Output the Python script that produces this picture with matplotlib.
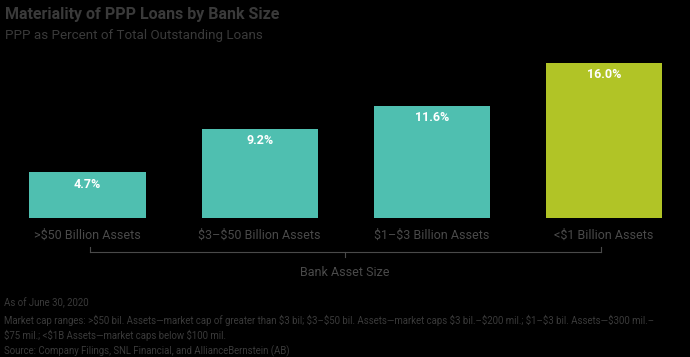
import matplotlib.pyplot as plt

categories = [">$50 Billion Assets", "$3\u2013$50 Billion Assets", "$1\u2013$3 Billion Assets", "<$1 Billion Assets"]
ppp_pct = [4.7, 9.2, 11.6, 16.0]
bar_colors = ["#4fbfb0", "#4fbfb0", "#4fbfb0", "#b1c426"]

title = "Materiality of PPP Loans by Bank Size"
subtitle = "PPP as Percent of Total Outstanding Loans"
x_title = "Bank Asset Size"
notes = [
    "As of June 30, 2020",
    "Market cap ranges: >$50 bil. Assets\u2014market cap of greater than $3 bil; $3\u2013$50 bil. Assets\u2014market caps $3 bil.\u2013$200 mil.; $1\u2013$3 bil. Assets\u2014$300 mil.\u2013",
    "$75 mil.; <$1B Assets\u2014market caps below $100 mil.",
    "Source: Company Filings, SNL Financial, and AllianceBernstein (AB)",
]

plt.rcParams['font.family'] = ['Roboto', 'DejaVu Sans']
plt.rcParams['text.parse_math'] = False
W, H = 690, 357
fig = plt.figure(figsize=(W / 100, H / 100), dpi=100, facecolor='black')

# axes placed in pixel coords: x 1.5..690, y 63..218
ax = fig.add_axes([1.5 / W, 1 - 218 / H, 688.5 / W, 155 / H])
ax.set_facecolor('black')
x = range(len(categories))
bars = ax.bar(x, ppp_pct, width=0.675, color=bar_colors)
ax.set_xlim(-0.5, 3.5)
ax.set_ylim(0, 16)
for b, v in zip(bars, ppp_pct):
    ax.text(b.get_x() + b.get_width() / 2, v - 0.55, f"{v:.1f}%", ha='center', va='top',
            color='white', fontsize=9, fontweight='bold')
ax.set_xticks(list(x))
ax.set_xticklabels(categories, fontsize=9, color='#4a4a4a')
ax.tick_params(axis='x', length=0, pad=8)
ax.set_yticks([])
for s in ax.spines.values():
    s.set_visible(False)

# bracket below categories
def px(xp, yp):
    return xp / W, 1 - yp / H

line_kw = dict(color='#4a4a4a', lw=0.8, transform=fig.transFigure)
x0, x1, xc, yb = 90, 601, 345, 252
fig.add_artist(plt.Line2D([px(x0, 0)[0], px(x1, 0)[0]], [px(0, yb)[1]] * 2, **line_kw))
fig.add_artist(plt.Line2D([px(x0, 0)[0]] * 2, [px(0, yb)[1], px(0, yb - 5)[1]], **line_kw))
fig.add_artist(plt.Line2D([px(x1, 0)[0]] * 2, [px(0, yb)[1], px(0, yb - 5)[1]], **line_kw))
fig.add_artist(plt.Line2D([px(xc, 0)[0]] * 2, [px(0, yb)[1], px(0, yb + 5)[1]], **line_kw))
fig.text(*px(xc, 272), x_title, ha='center', va='center', fontsize=9, color='#4a4a4a')

fig.text(*px(5, 14), title, ha='left', va='center', fontsize=11.5, fontweight='bold', color='#3a3a3a')
fig.text(*px(5, 35), subtitle, ha='left', va='center', fontsize=9.6, color='#3a3a3a')

for yy, line in zip([303, 320, 335, 351], notes):
    fig.text(*px(4, yy), line, ha='left', va='center', fontsize=6.9, color='#3a3a3a')

fig.savefig('out.png', dpi=100, facecolor='black')
